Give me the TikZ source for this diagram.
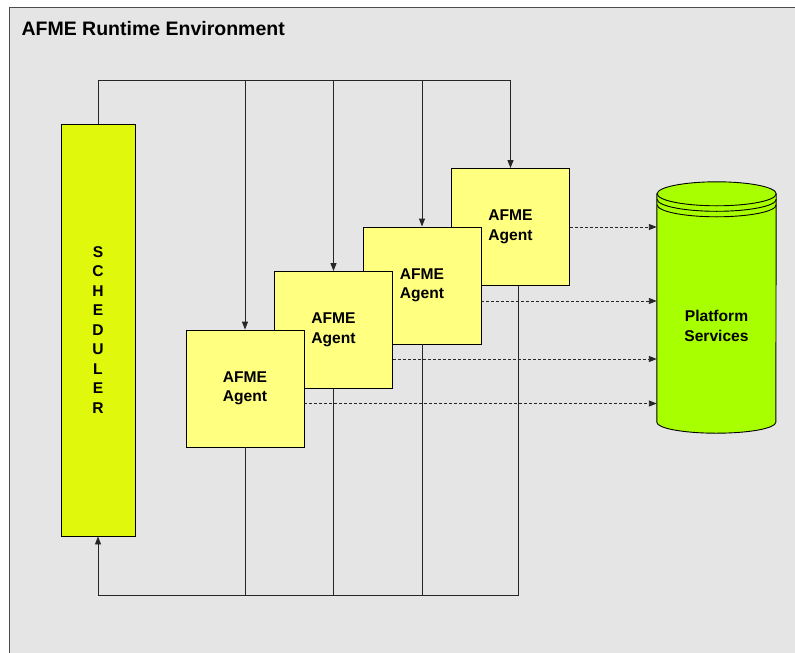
\documentclass[tikz,border=0pt]{standalone}
\usepackage{fontspec}
\setmainfont{Liberation Sans}
\usetikzlibrary{arrows.meta, calc}
\definecolor{envgray}{HTML}{E5E5E5}
\definecolor{schedgreen}{HTML}{E0F80C}
\definecolor{agentyellow}{HTML}{FFFF80}
\definecolor{cylgreen}{HTML}{A8FF00}
\tikzset{
    >={Triangle[length=8pt,width=6pt]},
    wire/.style = {line width=0.9pt, draw=black!85},
    dataflow/.style = {wire, dash pattern=on 3pt off 2pt},
    agent/.style = {draw, line width=0.9pt, fill=agentyellow,
        minimum width=118pt, minimum height=117pt, inner sep=0pt,
        align=center, font=\fontsize{15.6}{19.5}\selectfont\bfseries},
    scheduler/.style = {draw, line width=0.9pt, fill=schedgreen,
        minimum width=74pt, minimum height=412pt, inner sep=0pt,
        align=center, font=\fontsize{15.6}{19.5}\selectfont\bfseries},
}

\begin{document}
\begin{tikzpicture}[x=1pt, y=-1pt]
\useasboundingbox (0,0) rectangle (795,653);
\clip (0,0) rectangle (795,653);
\draw[fill=envgray, draw=black!70, line width=1pt] (9.5,7) rectangle (820,680);
\node[anchor=base west, font=\fontsize{19.5}{22}\selectfont\bfseries] (title) at (18,35) {AFME Runtime Environment};

% scheduler and agents
\node[scheduler] (sched) at (98,330) {S\\C\\H\\E\\D\\U\\L\\E\\R};

\node[agent] (a4) at (510.5,227) {AFME\\Agent};
\node[agent] (a3) at (422,285.5) {AFME\\Agent};
\node[agent] (a2) at (333.5,330) {AFME\\Agent};
\node[agent] (a1) at (245,388.5) {AFME\\Agent};

% platform services
\node[minimum width=119pt, minimum height=228pt, inner sep=0pt] (ps) at (716.5,308) {};
\draw[line width=0.9pt, fill=cylgreen] (ps.north west) -- (ps.south west)
    arc[start angle=180, end angle=360, x radius=59.5pt, y radius=11pt]
    -- (ps.north east)
    arc[start angle=0, end angle=180, x radius=59.5pt, y radius=12pt] -- cycle;
\foreach \d in {0,5.5,11}
    \draw[line width=0.9pt] ([yshift=-\d pt]ps.north east)
        arc[start angle=0, end angle=-180, x radius=59.5pt, y radius=12pt];
\node[align=center, font=\fontsize{15.6}{19.5}\selectfont\bfseries] (pslabel)
    at ($(ps.center)+(0,18)$) {Platform\\Services};

% control bus
\coordinate (topbus) at (0,80);
\coordinate (botbus) at (0,595);
\draw[wire,->] (sched.north) -- (sched.north |- topbus) -- (a4.north |- topbus) -- (a4.north);
\foreach \a in {a1,a2,a3}
    \draw[wire,->] (\a.north |- topbus) -- (\a.north);

\coordinate (a4out) at ($(a4.south)+(7.5,0)$);
\draw[wire,->] (a4out) -- (a4out |- botbus) -- (sched.south |- botbus) -- (sched.south);
\foreach \a in {a1,a2,a3}
    \draw[wire] (\a.south) -- (\a.south |- botbus);

% service calls
\draw[dataflow,->] (a4.east) -- (a4.east -| ps.west);
\draw[dataflow,->] ([yshift=-15.5pt]a3.east) -- ([yshift=-15.5pt]a3.east -| ps.west);
\draw[dataflow,->] ([yshift=-29pt]a2.east) -- ([yshift=-29pt]a2.east -| ps.west);
\draw[dataflow,->] ([yshift=-15pt]a1.east) -- ([yshift=-15pt]a1.east -| ps.west);
\end{tikzpicture}
\end{document}
